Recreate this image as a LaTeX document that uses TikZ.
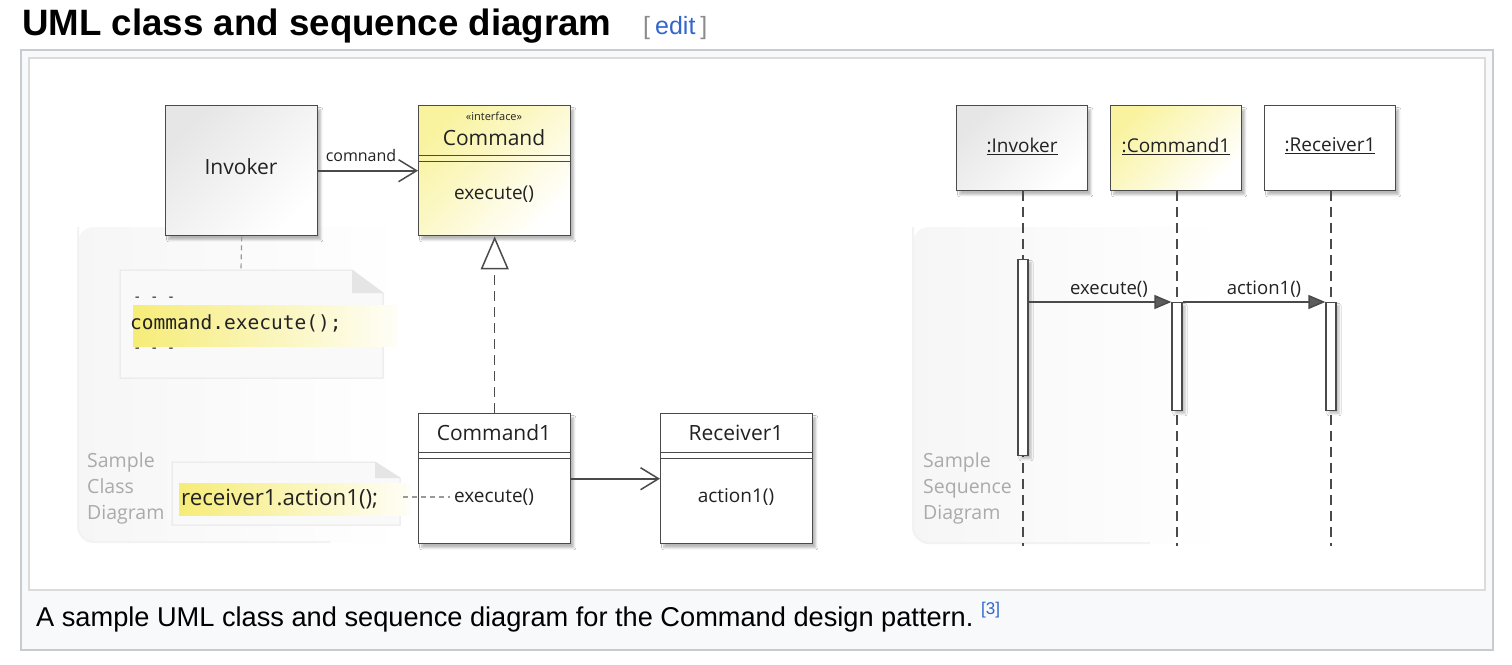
\documentclass[tikz,border=0pt]{standalone}
\usepackage{fontspec}
\setmainfont{Liberation Sans}
\newfontfamily\umlf{Open Sans}
\newfontfamily\umlmono{DejaVu Sans Mono}
\usetikzlibrary{arrows.meta,shadows.blur}
\definecolor{wlink}{HTML}{3366CC}
\definecolor{frameborder}{HTML}{C8CCD1}
\definecolor{capbg}{HTML}{F8F9FA}
\definecolor{umlline}{HTML}{4A4A4A}
\definecolor{umltext}{HTML}{222222}
\definecolor{uyellow}{HTML}{F9F3A0}
\definecolor{ugray}{HTML}{E6E6E6}
\definecolor{hly}{HTML}{F6EC78}
\definecolor{notefill}{HTML}{F9F9F9}
\definecolor{noteline}{HTML}{E6E6E6}
\definecolor{samplegray}{HTML}{AAAAAA}
\tikzset{
  umlbox/.style={draw=umlline, line width=1.4pt, inner sep=0pt,
    blur shadow={shadow xshift=3pt, shadow yshift=-4pt, shadow blur steps=6, shadow opacity=28}},
  graybox/.style={umlbox, top color=ugray, bottom color=white, shading angle=45},
  yellowbox/.style={umlbox, top color=uyellow, bottom color=white, shading angle=45},
  whitebox/.style={umlbox, fill=white},
  sep/.style={draw=umlline, line width=0.9pt},
  utxt/.style={font=\umlf\fontsize{21}{24}\selectfont, text=umltext, inner sep=0pt},
  optxt/.style={font=\umlf\fontsize{19}{22}\selectfont, text=umltext, inner sep=0pt},
  smalltxt/.style={font=\umlf\fontsize{11}{12}\selectfont, text=umltext, inner sep=0pt},
  lbltxt/.style={font=\umlf\fontsize{16}{18}\selectfont, text=umltext, inner sep=0pt},
  msgtxt/.style={font=\umlf\fontsize{18.5}{20}\selectfont, text=umltext, inner sep=0pt},
  sampletxt/.style={font=\umlf\fontsize{19.5}{26}\selectfont, text=samplegray, inner sep=0pt, anchor=base west},
  monotxt/.style={font=\umlmono\fontsize{19.5}{20}\selectfont, text=umltext, inner sep=0pt, anchor=base west},
  assoc/.style={draw=umlline, line width=1.6pt, -{Straight Barb[length=18pt,width=22pt,line width=1.5pt]}},
  realize/.style={draw=umlline, line width=1.5pt, dash pattern=on 10pt off 6pt,
    -{Triangle[open, length=33pt, width=28pt, line width=1.5pt, fill=white]}},
  msg/.style={draw=umlline, line width=1.5pt, -{Triangle[length=17pt,width=14pt, fill=umlline!90]}},
  lifeline/.style={draw=umlline, line width=1.5pt, dash pattern=on 10pt off 6pt},
  notelink/.style={draw=black!40, line width=1.2pt, dash pattern=on 5pt off 4pt},
  notebox/.style={fill=notefill, draw=noteline, line width=1pt},
  actbar/.style={draw=umlline, fill=white, line width=1.3pt, inner sep=0pt,
    blur shadow={shadow xshift=3pt, shadow yshift=-3pt, shadow blur steps=5, shadow opacity=25}},
  region/.style={rounded corners=16pt, left color=black!3.5, right color=white},
  regionedge/.style={rounded corners=16pt, draw=black!5, line width=2pt},
}
\begin{document}
\begin{tikzpicture}[x=1pt,y=-1pt]
\useasboundingbox (0,0) rectangle (1512,664);
\fill[white] (0,0) rectangle (1512,664);

% heading
\node[anchor=base west, font=\bfseries\fontsize{36.7}{40}\selectfont, inner sep=0pt] (title) at (22,35) {UML class and sequence diagram};
\node[anchor=base west, font=\fontsize{25}{28}\selectfont, inner sep=0pt] (edit) at (643,34)
  {\textcolor{black!45}{[}\hspace{5pt}\textcolor{wlink}{edit}\hspace{5pt}\textcolor{black!45}{]}};

% frames
\draw[draw=frameborder, fill=capbg, line width=1.5pt] (21,50) rectangle (1493,650);
\draw[draw=black!14, fill=white, line width=1.2pt] (29,58) rectangle (1485,590);

% caption
\node[anchor=base west, font=\fontsize{27.2}{30}\selectfont, inner sep=0pt] (cap) at (36,626)
  {A sample UML class and sequence diagram for the Command design pattern.};
\node[anchor=base west, font=\fontsize{17}{18}\selectfont, text=wlink, inner sep=0pt] (ref) at (981,614) {[3]};

% background regions
\shade[region] (78,227) rectangle (405,542);
\draw[regionedge] (330,542) -- (78,542) -- (78,227);
\shade[region] (913,227) rectangle (1226,543);
\draw[regionedge] (1150,543) -- (913,543) -- (913,227);

\node[sampletxt] (s1a) at (87,467) {Sample};
\node[sampletxt] (s1b) at (87,493) {Class};
\node[sampletxt] (s1c) at (87,519) {Diagram};
\node[sampletxt] (s2a) at (923,467) {Sample};
\node[sampletxt] (s2b) at (923,493) {Sequence};
\node[sampletxt] (s2c) at (923,519) {Diagram};

% ---------- class diagram ----------
% note 1
\path[notebox] (120,270) -- (352,270) -- (383,293) -- (383,378) -- (120,378) -- cycle;
\fill[black!10] (352,270) -- (352,293) -- (383,293) -- cycle;
\shade[left color=hly, right color=hly!6] (133,305) rectangle (397,346);
\node[monotxt, font=\umlmono\fontsize{14}{16}\selectfont] (n1a) at (133,301) {- - -};
\node[monotxt] (n1b) at (130,329) {command.execute();};
\node[monotxt, font=\umlmono\fontsize{14}{16}\selectfont] (n1c) at (133,352) {- - -};
\coordinate (n1top) at (241,270);

% note 2
\path[notebox] (172,462) -- (375,462) -- (400,478) -- (400,525) -- (172,525) -- cycle;
\fill[black!10] (375,462) -- (375,478) -- (400,478) -- cycle;
\shade[left color=hly, right color=hly!6] (179,483) rectangle (410,515);
\node[anchor=base west, font=\umlf\fontsize{22.3}{24}\selectfont, text=umltext, inner sep=0pt] (n2) at (181,505) {receiver1.action1();};
\coordinate (n2r) at (403,497);

% classes
\node[graybox, anchor=north west, minimum width=152pt, minimum height=130pt] (inv) at (165,105) {};
\node[utxt] (invname) at (241,167) {Invoker};

\node[yellowbox, anchor=north west, minimum width=152pt, minimum height=130pt] (cmd) at (418,105) {};
\draw[sep] (418,155) -- (570,155) (418,161) -- (570,161);
\node[smalltxt] (cmdst) at (494,116) {«interface»};
\node[utxt] (cmdname) at (494,138) {Command};
\node[optxt] (cmdop) at (494,194) {execute()};

\node[whitebox, anchor=north west, minimum width=152pt, minimum height=130pt] (cmd1) at (418,413) {};
\draw[sep] (418,452) -- (570,452) (418,458) -- (570,458);
\node[utxt] (cmd1name) at (494,433) {Command1};
\node[optxt] (cmd1op) at (494,497) {execute()};

\node[whitebox, anchor=north west, minimum width=152pt, minimum height=130pt] (rcv) at (660,413) {};
\draw[sep] (660,452) -- (812,452) (660,458) -- (812,458);
\node[utxt] (rcvname) at (736,433) {Receiver1};
\node[optxt] (rcvop) at (736,497) {action1()};

% class connectors
\draw[assoc] (inv.east) -- (cmd.west);
\node[lbltxt] (assoclbl) at (361,155) {comnand};
\draw[realize] (cmd1.north) -- (cmd.south);
\draw[assoc] (cmd1.east) -- (rcv.west);
\draw[notelink] (inv.south) -- (n1top);
\draw[notelink] (n2r) -- ([xshift=-4pt]cmd1op.west);

% ---------- sequence diagram ----------
\node[graybox, anchor=north west, minimum width=131pt, minimum height=85pt] (li) at (956,105) {};
\node[yellowbox, anchor=north west, minimum width=131pt, minimum height=85pt] (lc) at (1110,105) {};
\node[whitebox, anchor=north west, minimum width=131pt, minimum height=85pt] (lr) at (1264,105) {};
\node[optxt] (linm) at (1022,146) {\underline{:Invoker}};
\node[optxt] (lcnm) at (1176,146) {\underline{:Command1}};
\node[optxt] (lrnm) at (1330,146) {\underline{:Receiver1}};

\coordinate (lie) at (1023,546);
\coordinate (lce) at (1177,546);
\coordinate (lre) at (1331,546);
\draw[lifeline] (li.south -| lie) -- (lie);
\draw[lifeline] (lc.south -| lce) -- (lce);
\draw[lifeline] (lr.south -| lre) -- (lre);

\node[actbar, anchor=north, minimum width=10pt, minimum height=196pt] (ai) at (1023,259) {};
\node[actbar, anchor=north, minimum width=10pt, minimum height=108pt] (ac) at (1177,302) {};
\node[actbar, anchor=north, minimum width=10pt, minimum height=108pt] (ar) at (1331,302) {};

\draw[msg] (ai.east |- ac.north west) -- (ac.north west);
\draw[msg] (ac.north east) -- (ar.north west);
\node[msgtxt] (m1) at (1109,289) {execute()};
\node[msgtxt] (m2) at (1264,289) {action1()};
\end{tikzpicture}
\end{document}
